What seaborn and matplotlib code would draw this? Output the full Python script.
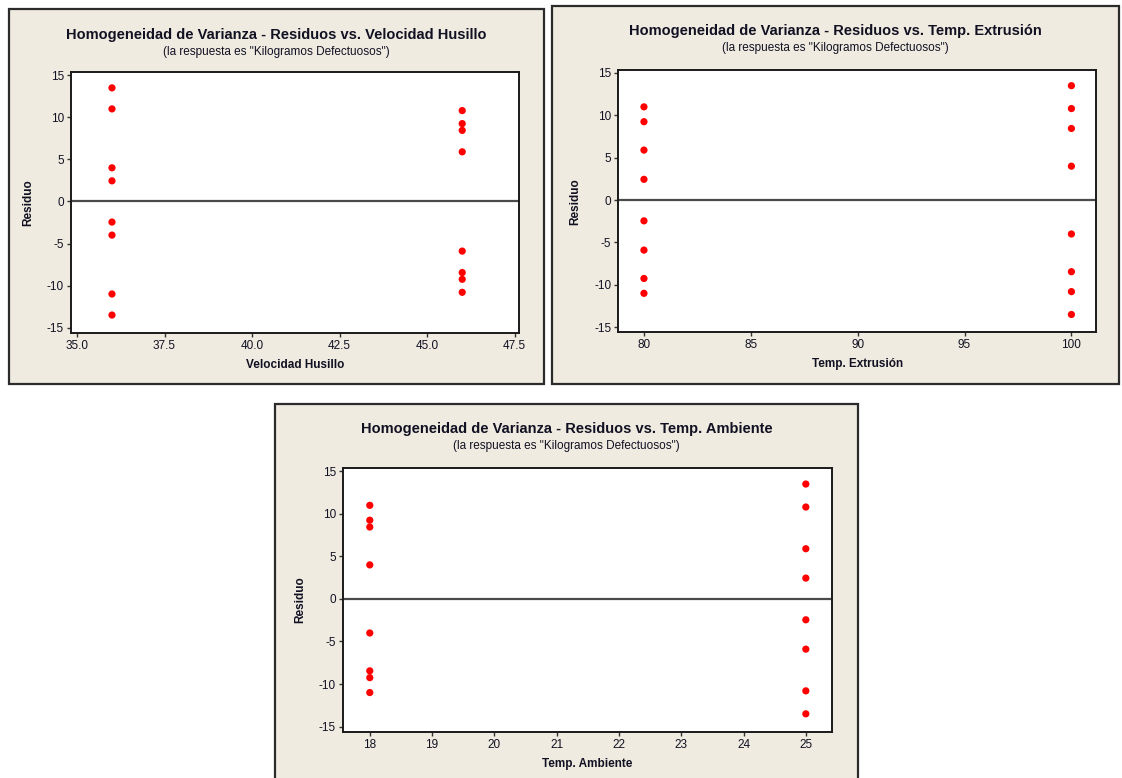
import matplotlib
matplotlib.use("Agg")
import matplotlib.pyplot as plt
from matplotlib.patches import Rectangle
import pandas as pd
import seaborn as sns

# Residuals of the replicated 2^3 design (two runs per cell)
velocidad_husillo = [36, 36, 36, 36, 36, 36, 36, 36, 46, 46, 46, 46, 46, 46, 46, 46]
temp_extrusion = [100, 100, 80, 80, 100, 100, 80, 80, 100, 100, 80, 80, 100, 100, 80, 80]
temp_ambiente = [25, 25, 18, 18, 18, 18, 25, 25, 25, 25, 18, 18, 18, 18, 25, 25]
residuo = [13.5, -13.5, 11.0, -11.0, 4.0, -4.0, 2.45, -2.45,
           10.8, -10.8, 9.25, -9.25, 8.45, -8.45, 5.9, -5.9]

titulo_base = "Homogeneidad de Varianza - Residuos vs. "
subtitulo = '(la respuesta es "Kilogramos Defectuosos")'
y_ticks = [-15, -10, -5, 0, 5, 10, 15]
ticks_velocidad = [35.0, 37.5, 40.0, 42.5, 45.0, 47.5]
ticks_extrusion = [80, 85, 90, 95, 100]
ticks_ambiente = [18, 19, 20, 21, 22, 23, 24, 25]

df = pd.DataFrame({
    "Velocidad Husillo": velocidad_husillo,
    "Temp. Extrusión": temp_extrusion,
    "Temp. Ambiente": temp_ambiente,
    "Residuo": residuo,
})

sns.set_style("white")
plt.rcParams["font.family"] = ["Liberation Sans", "DejaVu Sans"]
plt.rcParams["axes.unicode_minus"] = False

W, H = 1122, 778
fig = plt.figure(figsize=(W / 100, H / 100), dpi=100)
fig.patch.set_facecolor("white")

PANEL_BG = "#efebe1"
TEXT = "#111122"


def fig_box(x0, y0, x1, y1):
    return [x0 / W, 1 - y1 / H, (x1 - x0) / W, (y1 - y0) / H]


def draw_panel(panel, axbox, col, xticks, xfmt, xlim):
    px0, py0, px1, py1 = panel
    fig.add_artist(Rectangle((px0 / W, 1 - py1 / H), (px1 - px0) / W, (py1 - py0) / H,
                             transform=fig.transFigure, facecolor=PANEL_BG,
                             edgecolor="#2b2b2b", linewidth=1.6, zorder=0))
    cx = (px0 + px1) / 2 / W
    fig.text(cx, 1 - (py0 + 25) / H, titulo_base + col, ha="center", va="center",
             fontsize=10.5, fontweight="bold", color=TEXT)
    fig.text(cx, 1 - (py0 + 42) / H, subtitulo, ha="center", va="center",
             fontsize=8.5, color=TEXT)

    ax = fig.add_axes(fig_box(*axbox))
    ax.set_facecolor("white")
    ax.axhline(0, color="#4a4a4a", linewidth=1.6, zorder=1)
    sns.scatterplot(data=df, x=col, y="Residuo", ax=ax, color="#ff0000",
                    s=27, edgecolor="none", linewidth=0, zorder=3, legend=False)
    ax.set_xlim(*xlim)
    ax.set_ylim(-15.6, 15.35)
    ax.set_xticks(xticks)
    ax.set_xticklabels([xfmt.format(v) for v in xticks])
    ax.set_yticks(y_ticks)
    ax.tick_params(axis="both", direction="out", length=3, width=1, color="#333333",
                   labelsize=8.5, labelcolor=TEXT, pad=2,
                   bottom=True, left=True, top=False, right=False)
    for sp in ax.spines.values():
        sp.set_visible(True)
        sp.set_color("#1a1a1a")
        sp.set_linewidth(1.4)
    ax.set_xlabel(col, fontsize=8.5, fontweight="bold", color=TEXT, labelpad=5)
    ax.set_ylabel("Residuo", fontsize=8.5, fontweight="bold", color=TEXT, labelpad=9)
    return ax


draw_panel((8.5, 9.5, 544, 384), (71, 72.3, 519.3, 332.7),
           "Velocidad Husillo", ticks_velocidad, "{:.1f}", (34.83, 47.63))
draw_panel((552, 6, 1119, 384), (618.3, 70, 1096, 332.3),
           "Temp. Extrusión", ticks_extrusion, "{:d}", (78.8, 101.15))
draw_panel((275, 404, 858, 800), (343, 468.3, 832, 731.7),
           "Temp. Ambiente", ticks_ambiente, "{:d}", (17.57, 25.42))

fig.savefig("out.png", dpi=100, facecolor="white")
